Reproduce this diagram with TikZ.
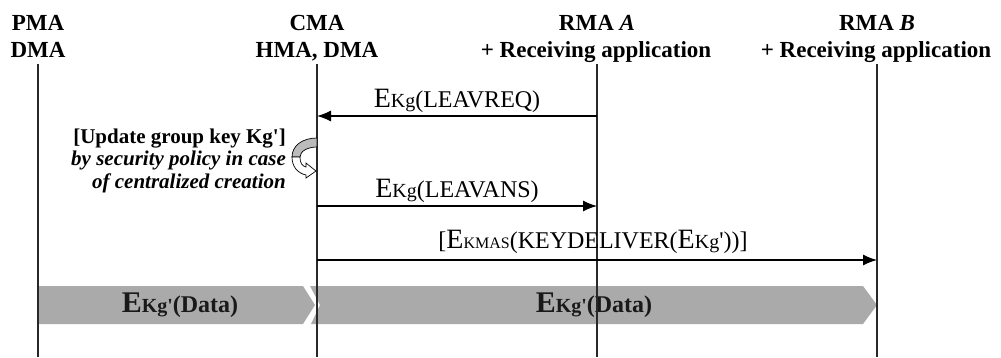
\documentclass[tikz,border=0pt]{standalone}
\usepackage{fontspec}
\setmainfont{Liberation Serif}
\usetikzlibrary{arrows.meta}
\definecolor{bargray}{RGB}{170,170,170}
\definecolor{linegray}{RGB}{40,40,40}
\newcommand\sq{\textquotesingle}
\newcommand\mE{{\fontsize{28}{30}\selectfont E}}
\newcommand\mKg{{\fontsize{20}{22}\selectfont Kg}}
\newcommand\mKMAS{{\fontsize{16}{18}\selectfont KMAS}}
\newcommand\dE{{\fontsize{30}{30}\selectfont\bfseries E}}
\newcommand\dKg{{\fontsize{20}{22}\selectfont\bfseries Kg\sq}}
\begin{document}
\begin{tikzpicture}[x=1pt,y=-1pt,
  hdr/.style={font=\fontsize{23}{26}\selectfont\bfseries, anchor=base, inner sep=0pt},
  lifeline/.style={draw=linegray, line width=1.3pt},
  msgarrow/.style={draw=black, line width=1.2pt, -{Latex[length=14pt,width=11pt]}},
  msglabel/.style={font=\fontsize{24}{26}\selectfont, anchor=base, inner sep=0pt},
  databar/.style={fill=bargray, draw=none},
  datalabel/.style={font=\fontsize{24}{26}\selectfont\bfseries, inner sep=0pt, text=black!90},
  note/.style={font=\fontsize{21}{23}\selectfont\bfseries, anchor=base east, inner sep=0pt}]
\useasboundingbox (0,0) rectangle (1001,357);
% headers
\node[hdr] (h1a) at (38,30) {PMA};
\node[hdr] (h1b) at (38,57) {DMA};
\node[hdr] (h2a) at (317,30) {CMA};
\node[hdr] (h2b) at (317,57) {HMA, DMA};
\node[hdr] (h3a) at (597,30) {RMA \textit{A}};
\node[hdr] (h3b) at (596,57) {+ Receiving application};
\node[hdr] (h4a) at (877,30) {RMA \textit{B}};
\node[hdr] (h4b) at (876,57) {+ Receiving application};
% lifeline coordinates
\coordinate (p0) at (38,64);   \coordinate (p1) at (38,357);
\coordinate (c0) at (317,64);  \coordinate (c1) at (317,357);
\coordinate (a0) at (597,64);  \coordinate (a1) at (597,357);
\coordinate (b0) at (877,64);  \coordinate (b1) at (877,357);
% data bars (behind lifelines)
\path[databar] (38,286) -- (303,286) -- (315,305) -- (303,324) -- (38,324) -- cycle;
\path[databar] (310,286) -- (863,286) -- (877,305) -- (863,324) -- (311,324) -- (320,305) -- cycle;
\node[datalabel] (d1) at (180,305) {\dE\dKg(Data)};
\node[datalabel] (d2) at (594,305) {\dE\dKg(Data)};
% lifelines
\draw[lifeline] (p0) -- (p1);
\draw[lifeline] (c0) -- (c1);
\draw[lifeline] (a0) -- (a1);
\draw[lifeline] (b0) -- (b1);
% messages
\coordinate (m1s) at (597,116); \coordinate (m1e) at (317,116);
\draw[msgarrow] (m1s) -- (m1e);
\node[msglabel] (l1) at (457,107) {\mE\mKg(LEAVREQ)};
\coordinate (m2s) at (317,206); \coordinate (m2e) at (597,206);
\draw[msgarrow] (m2s) -- (m2e);
\node[msglabel] (l2) at (457,197) {\mE\mKg(LEAVANS)};
\coordinate (m3s) at (317,260); \coordinate (m3e) at (877,260);
\draw[msgarrow] (m3s) -- (m3e);
\node[msglabel] (l3) at (593,248) {[\mE\mKMAS(KEYDELIVER(\mE\mKg\sq))]};
% self action note
\node[note] (n1) at (286,143) {[Update group key Kg\sq]};
\node[note] (n2) at (286,165) {\itshape by security policy in case};
\node[note] (n3) at (286,188) {\itshape of centralized creation};
% curved self arrow
\draw[fill=bargray!80, line width=0.7pt] (317,138) .. controls (302,138) and (292,146) .. (292,157)
  -- (300,157) .. controls (300,151) and (308,147) .. (317,147) -- cycle;
\draw[fill=white, line width=0.7pt] (306,167) -- (306,163) -- (316,171) -- (306,178) -- (306,175)
  .. controls (297,173) and (292,166) .. (292,157) -- (300,157)
  .. controls (300,163) and (302,166) .. (306,167) -- cycle;
\end{tikzpicture}
\end{document}
